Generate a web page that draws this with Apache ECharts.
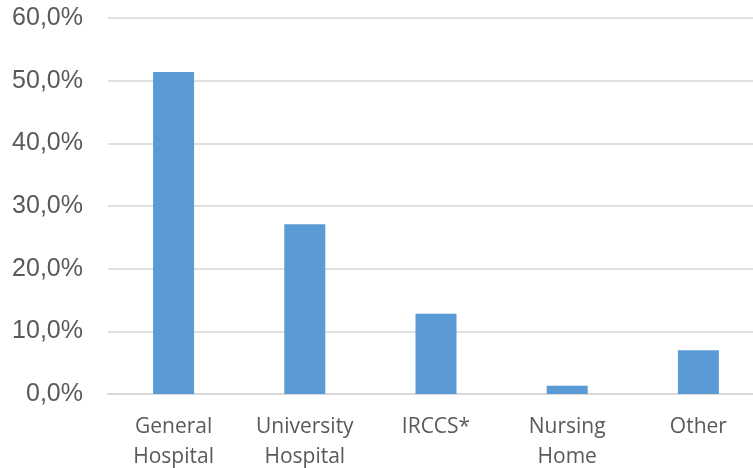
<!DOCTYPE html>
<html><head><meta charset="utf-8">
<script src="https://cdn.jsdelivr.net/npm/echarts@6/dist/echarts.min.js"></script>
<style>html,body{margin:0;padding:0;background:#fff}#c{width:753px;height:468px}</style>
</head><body><div id="c"></div>
<script>
var categories = ['General\nHospital', 'University\nHospital', 'IRCCS*', 'Nursing\nHome', 'Other'];
var values = [51.4, 27.1, 12.8, 1.3, 7.0];
var yTicks = [0, 10, 20, 30, 40, 50, 60];

var chart = echarts.init(document.getElementById('c'), null, {renderer: 'canvas'});
chart.setOption({
  animation: false,
  grid: {left: 108, top: 18, width: 656, height: 376, containLabel: false, outerBoundsMode: 'none'},
  xAxis: {
    type: 'category', data: categories,
    axisLine: {show: true, lineStyle: {color: '#d9d9d9', width: 2}},
    axisTick: {show: false},
    axisLabel: {color: '#595959', fontFamily: 'Open Sans', fontSize: 21, lineHeight: 30, margin: 18}
  },
  yAxis: {
    type: 'value', min: yTicks[0], max: yTicks[yTicks.length - 1], interval: 10,
    axisLine: {show: false}, axisTick: {show: false},
    splitLine: {lineStyle: {color: '#e0e0e0', width: 2}},
    axisLabel: {color: '#595959', fontFamily: 'Liberation Sans', fontSize: 25, margin: 25,
      formatter: function (v) { return v.toFixed(1).replace('.', ',') + '%'; }}
  },
  series: [{type: 'bar', data: values, barWidth: 41, itemStyle: {color: '#5b9bd5'}}]
});
</script></body></html>
